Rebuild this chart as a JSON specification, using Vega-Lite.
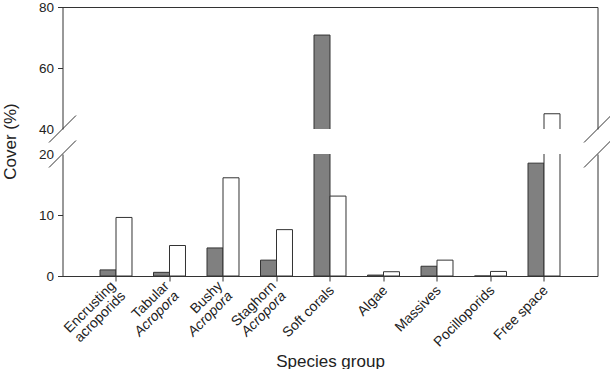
{
  "$schema": "https://vega.github.io/schema/vega-lite/v6.json",
  "padding": {"left": 1.5, "top": 0, "right": 0, "bottom": 0},
  "bounds": "flush",
  "spacing": 25,
  "config": {
    "font": "Liberation Sans",
    "view": {"stroke": null},
    "axis": {
      "domainColor": "#333",
      "tickColor": "#333",
      "labelColor": "#222",
      "titleColor": "#222",
      "labelFontSize": 13.5,
      "titleFontSize": 17,
      "titleFontWeight": "normal",
      "tickSize": 5,
      "grid": false,
      "labelFlush": false,
      "labelOverlap": false
    },
    "axisBottom": {"labelAngle": -45, "labelAlign": "right", "labelBaseline": "middle", "labelFontSize": 14}
  },
  "data": {
    "values": [
      {"group": "Encrusting acroporids", "series": "A", "cover": 1.0},
      {"group": "Encrusting acroporids", "series": "B", "cover": 9.6},
      {"group": "Tabular Acropora", "series": "A", "cover": 0.6},
      {"group": "Tabular Acropora", "series": "B", "cover": 5.0},
      {"group": "Bushy Acropora", "series": "A", "cover": 4.6},
      {"group": "Bushy Acropora", "series": "B", "cover": 16.1},
      {"group": "Staghorn Acropora", "series": "A", "cover": 2.6},
      {"group": "Staghorn Acropora", "series": "B", "cover": 7.6},
      {"group": "Soft corals", "series": "A", "cover": 70.8},
      {"group": "Soft corals", "series": "B", "cover": 13.1},
      {"group": "Algae", "series": "A", "cover": 0.15},
      {"group": "Algae", "series": "B", "cover": 0.7},
      {"group": "Massives", "series": "A", "cover": 1.6},
      {"group": "Massives", "series": "B", "cover": 2.6},
      {"group": "Pocilloporids", "series": "A", "cover": 0},
      {"group": "Pocilloporids", "series": "B", "cover": 0.75},
      {"group": "Free space", "series": "A", "cover": 18.5},
      {"group": "Free space", "series": "B", "cover": 45.0}
    ]
  },
  "vconcat": [
    {
      "width": 535,
      "height": 122,
      "resolve": {"axis": {"x": "independent", "y": "independent"}},
      "layer": [
        {
          "transform": [{"filter": "datum.series == 'A'"}],
          "mark": {"type": "bar", "clip": true, "fill": "#808080", "stroke": "#333", "strokeWidth": 1},
          "encoding": {
            "x": {"field": "group", "type": "nominal", "sort": null,
                  "scale": {"paddingInner": 0, "paddingOuter": 0.5},
                  "axis": {"orient": "top", "labels": false, "ticks": false, "title": null}},
            "xOffset": {"field": "series", "type": "nominal", "scale": {"domain": ["A", "B"], "paddingInner": 0, "paddingOuter": 0.672}},
            "y": {"field": "cover", "type": "quantitative",
                  "scale": {"domain": [40, 80], "nice": false, "zero": false},
                  "axis": {"orient": "left", "values": [40, 60, 80], "title": null, "labelPadding": 4,
                           "tickOpacity": {"condition": {"test": "datum.value == 40", "value": 0}, "value": 1}}}
          }
        },
        {
          "transform": [{"filter": "datum.series == 'B'"}],
          "mark": {"type": "bar", "clip": true, "fill": "#ffffff", "stroke": "#333", "strokeWidth": 1},
          "encoding": {
            "x": {"field": "group", "type": "nominal", "sort": null, "axis": null},
            "xOffset": {"field": "series", "type": "nominal"},
            "y": {"field": "cover", "type": "quantitative",
                  "axis": {"orient": "right", "labels": false, "ticks": false, "title": null}}
          }
        },
        {
          "data": {"values": [{}]},
          "mark": {"type": "point", "shape": "M-1,1L1,-1", "size": 729, "filled": false, "stroke": "#333", "strokeWidth": 1, "opacity": 1},
          "encoding": {"x": {"value": 0}, "y": {"datum": 40, "type": "quantitative", "axis": null}}
        },
        {
          "data": {"values": [{}]},
          "mark": {"type": "point", "shape": "M-1,1L1,-1", "size": 729, "filled": false, "stroke": "#333", "strokeWidth": 1, "opacity": 1},
          "encoding": {"x": {"value": "width"}, "y": {"datum": 40, "type": "quantitative", "axis": null}}
        }
      ]
    },
    {
      "width": 535,
      "height": 122,
      "resolve": {"axis": {"x": "independent", "y": "independent"}},
      "layer": [
        {
          "transform": [{"filter": "datum.series == 'A'"}],
          "mark": {"type": "bar", "clip": true, "fill": "#808080", "stroke": "#333", "strokeWidth": 1},
          "encoding": {
            "x": {"field": "group", "type": "nominal", "sort": null,
                  "scale": {"paddingInner": 0, "paddingOuter": 0.5},
                  "axis": {"orient": "bottom", "labelPadding": 7, "labelOffset": 2,
                           "labelExpr": "indexof(['Encrusting acroporids','Tabular Acropora','Bushy Acropora','Staghorn Acropora'], datum.value) >= 0 ? '' : datum.value",
                           "title": "Species group", "titleY": 90, "titleBaseline": "alphabetic"}},
            "xOffset": {"field": "series", "type": "nominal", "scale": {"domain": ["A", "B"], "paddingInner": 0, "paddingOuter": 0.672}},
            "y": {"field": "cover", "type": "quantitative",
                  "scale": {"domain": [0, 20], "nice": false},
                  "axis": {"orient": "left", "values": [0, 10, 20], "labelPadding": 4,
                           "tickOpacity": {"condition": {"test": "datum.value == 20", "value": 0}, "value": 1},
                           "title": "Cover (%)", "titleX": -52, "titleY": -13, "titleAngle": 270,
                           "titleAlign": "center", "titleBaseline": "middle"}}
          }
        },
        {
          "transform": [
            {"filter": "datum.series == 'B'"},
            {"filter": {"field": "group", "oneOf": ["Encrusting acroporids", "Tabular Acropora", "Bushy Acropora", "Staghorn Acropora"]}}
          ],
          "mark": {"type": "bar", "clip": true, "fill": "#ffffff", "stroke": "#333", "strokeWidth": 1},
          "encoding": {
            "x": {"field": "group", "type": "nominal", "sort": null,
                  "axis": {"orient": "bottom", "domain": false, "ticks": false,
                           "labelPadding": 7.5, "labelOffset": -2.5,
                           "labelExpr": "indexof(['Encrusting acroporids','Tabular Acropora','Bushy Acropora','Staghorn Acropora'], datum.value) >= 0 ? split(datum.value, ' ')[0] : ''",
                           "title": null}},
            "xOffset": {"field": "series", "type": "nominal"},
            "y": {"field": "cover", "type": "quantitative",
                  "axis": {"orient": "right", "labels": false, "ticks": false, "title": null}}
          }
        },
        {
          "transform": [
            {"filter": "datum.series == 'B'"},
            {"filter": {"not": {"field": "group", "oneOf": ["Encrusting acroporids", "Tabular Acropora", "Bushy Acropora", "Staghorn Acropora"]}}}
          ],
          "mark": {"type": "bar", "clip": true, "fill": "#ffffff", "stroke": "#333", "strokeWidth": 1},
          "encoding": {
            "x": {"field": "group", "type": "nominal", "sort": null,
                  "axis": {"orient": "bottom", "domain": false, "ticks": false,
                           "labelPadding": 17.5, "labelOffset": 7.5,
                           "labelExpr": "indexof(['Encrusting acroporids','Tabular Acropora','Bushy Acropora','Staghorn Acropora'], datum.value) >= 0 ? split(datum.value, ' ')[1] : ''",
                           "labelFontStyle": {"condition": {"test": "datum.value == 'Encrusting acroporids'", "value": "normal"}, "value": "italic"},
                           "title": null}},
            "xOffset": {"field": "series", "type": "nominal"},
            "y": {"field": "cover", "type": "quantitative", "axis": null}
          }
        },
        {
          "data": {"values": [{}]},
          "mark": {"type": "point", "shape": "M-1,1L1,-1", "size": 729, "filled": false, "stroke": "#333", "strokeWidth": 1, "opacity": 1},
          "encoding": {"x": {"value": 0}, "y": {"datum": 20, "type": "quantitative", "axis": null}}
        },
        {
          "data": {"values": [{}]},
          "mark": {"type": "point", "shape": "M-1,1L1,-1", "size": 729, "filled": false, "stroke": "#333", "strokeWidth": 1, "opacity": 1},
          "encoding": {"x": {"value": "width"}, "y": {"datum": 20, "type": "quantitative", "axis": null}}
        }
      ]
    }
  ]
}
